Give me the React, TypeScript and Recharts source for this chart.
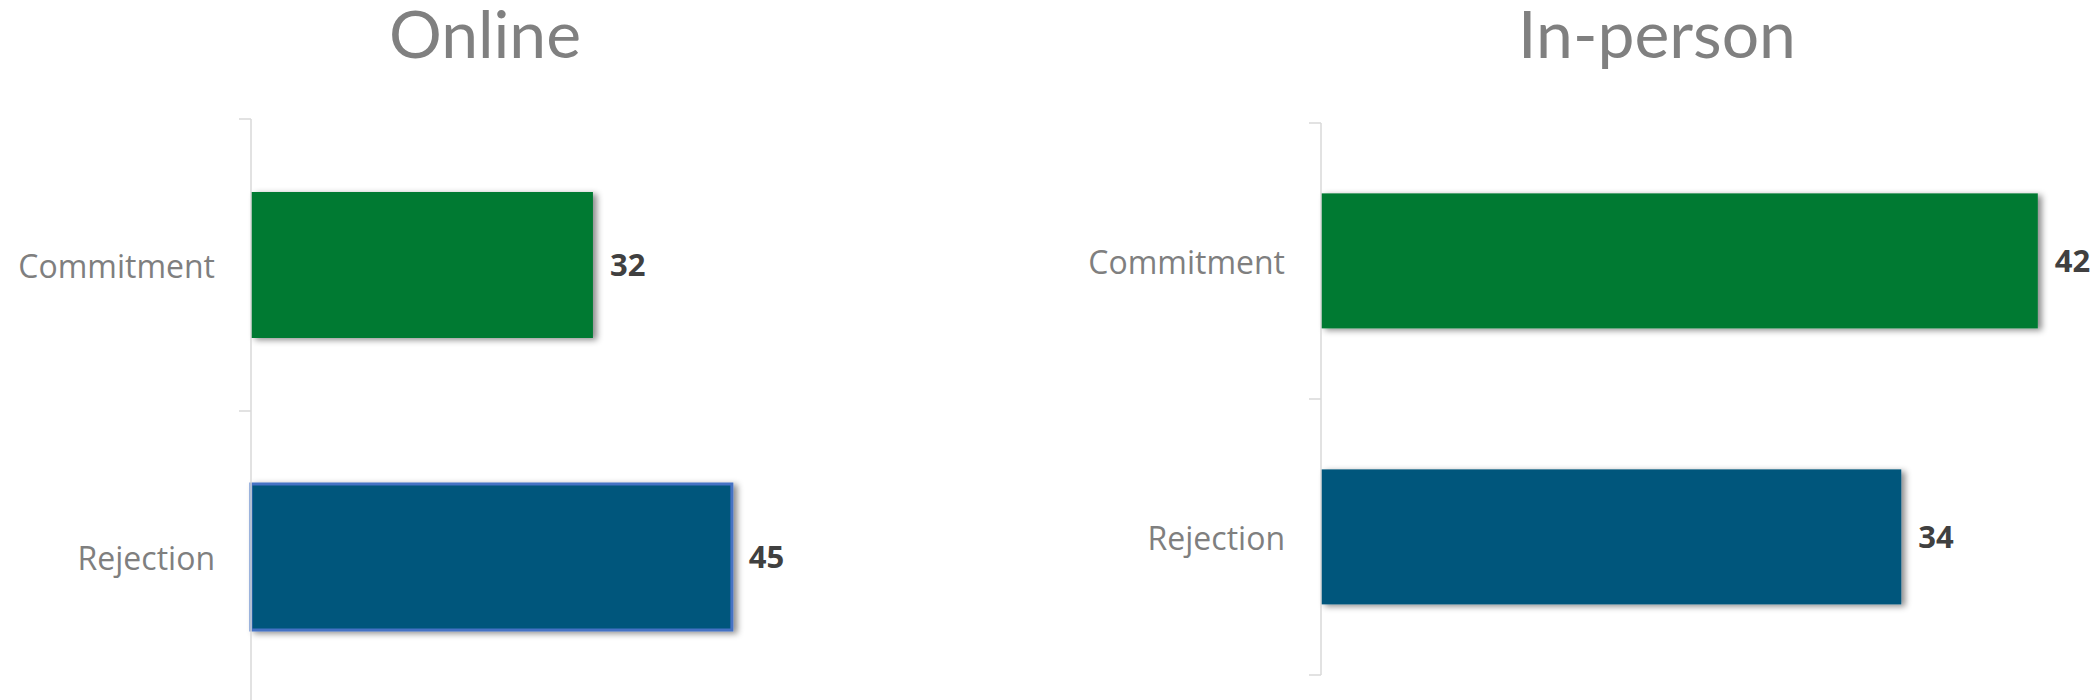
import React from 'react';
import { BarChart, Bar, XAxis, YAxis, Cell, LabelList } from 'recharts';

const categories = ['Commitment', 'Rejection'];
const onlineValues = [32, 45];
const inPersonValues = [42, 34];
const barColors = ['#007A33', '#00577C'];
const onlineBorders = ['none', '#4472C4'];
const inPersonBorders = ['none', 'none'];

const onlineData = categories.map((name, i) => ({ name, value: onlineValues[i] }));
const inPersonData = categories.map((name, i) => ({ name, value: inPersonValues[i] }));

const AXIS_COLOR = '#d9d9d9';

// label on the left, small tick marks at the band edges (like Excel's category axis)
const CategoryTick = (props: any) => {
  const { x, y, payload } = props;
  const half = payload.offset ?? 0;
  const isLast = payload.value === categories[categories.length - 1];
  return (
    <g>
      <line x1={x - 12} x2={x} y1={y - half} y2={y - half} stroke={AXIS_COLOR} strokeWidth={1.5} />
      {isLast && <line x1={x - 12} x2={x} y1={y + half} y2={y + half} stroke={AXIS_COLOR} strokeWidth={1.5} />}
      <text
        x={x - 36}
        y={y}
        textAnchor="end"
        dominantBaseline="central"
        fill="#7f7f7f"
        fontSize={32}
        fontFamily="'Open Sans', sans-serif"
      >
        {payload.value}
      </text>
    </g>
  );
};

const ShadowBar = (props: any) => {
  const { x, y, width, height, fill, stroke, strokeWidth } = props;
  return (
    <rect
      x={x}
      y={y}
      width={width}
      height={height}
      fill={fill}
      stroke={stroke}
      strokeWidth={strokeWidth}
      filter="url(#barShadow)"
    />
  );
};

type PanelProps = {
  data: { name: string; value: number }[];
  borders: string[];
  maxValue: number;
  width: number;
  height: number;
  margin: { top: number; right: number; bottom: number; left: number };
  axisWidth: number;
  gap: string;
};

const Panel = ({ data, borders, maxValue, width, height, margin, axisWidth, gap }: PanelProps) => (
  <BarChart width={width} height={height} data={data} layout="vertical" margin={margin} barCategoryGap={gap}>
    <XAxis type="number" domain={[0, maxValue]} hide />
    <YAxis
      type="category"
      dataKey="name"
      width={axisWidth}
      interval={0}
      tickLine={false}
      tickSize={0}
      tickMargin={0}
      axisLine={{ stroke: AXIS_COLOR, strokeWidth: 1.5 }}
      tick={<CategoryTick />}
    />
    <Bar dataKey="value" isAnimationActive={false} shape={<ShadowBar />}>
      {data.map((d, i) => (
        <Cell
          key={d.name}
          fill={barColors[i]}
          stroke={borders[i]}
          strokeWidth={borders[i] === 'none' ? 0 : 3}
        />
      ))}
      <LabelList
        dataKey="value"
        position="right"
        offset={17}
        fill="#404040"
        fontSize={31}
        fontWeight={700}
        fontFamily="'Open Sans', sans-serif"
      />
    </Bar>
  </BarChart>
);

const titleStyle = {
  fontFamily: "Lato, sans-serif",
  fontSize: 66,
  fill: '#808080',
};

export default function App() {
  return (
    <div
      style={{
        position: 'absolute',
        top: 0,
        left: 0,
        width: 2099,
        height: 700,
        overflow: 'hidden',
        background: '#ffffff',
      }}
    >
      <svg width={0} height={0} style={{ position: 'absolute' }}>
        <defs>
          <filter id="barShadow" x="-10%" y="-20%" width="125%" height="150%">
            <feDropShadow dx={4} dy={2} stdDeviation={3} floodColor="#000000" floodOpacity={0.45} />
          </filter>
        </defs>
      </svg>

      <svg width={2099} height={100} style={{ position: 'absolute', top: 0, left: 0 }}>
        <text x={485} y={58} textAnchor="middle" style={titleStyle}>
          Online
        </text>
        <text x={1657} y={58} textAnchor="middle" style={titleStyle}>
          In-person
        </text>
      </svg>

      <div style={{ position: 'absolute', top: 0, left: 0 }}>
        <Panel
          data={onlineData}
          borders={onlineBorders}
          maxValue={70}
          width={1050}
          height={710}
          margin={{ top: 119, right: 51, bottom: 7, left: 0 }}
          axisWidth={251}
          gap="25%"
        />
      </div>

      <div style={{ position: 'absolute', top: 0, left: 1050 }}>
        <Panel
          data={inPersonData}
          borders={inPersonBorders}
          maxValue={45}
          width={1049}
          height={700}
          margin={{ top: 123, right: 10, bottom: 25, left: 0 }}
          axisWidth={271}
          gap="25.5%"
        />
      </div>
    </div>
  );
}
